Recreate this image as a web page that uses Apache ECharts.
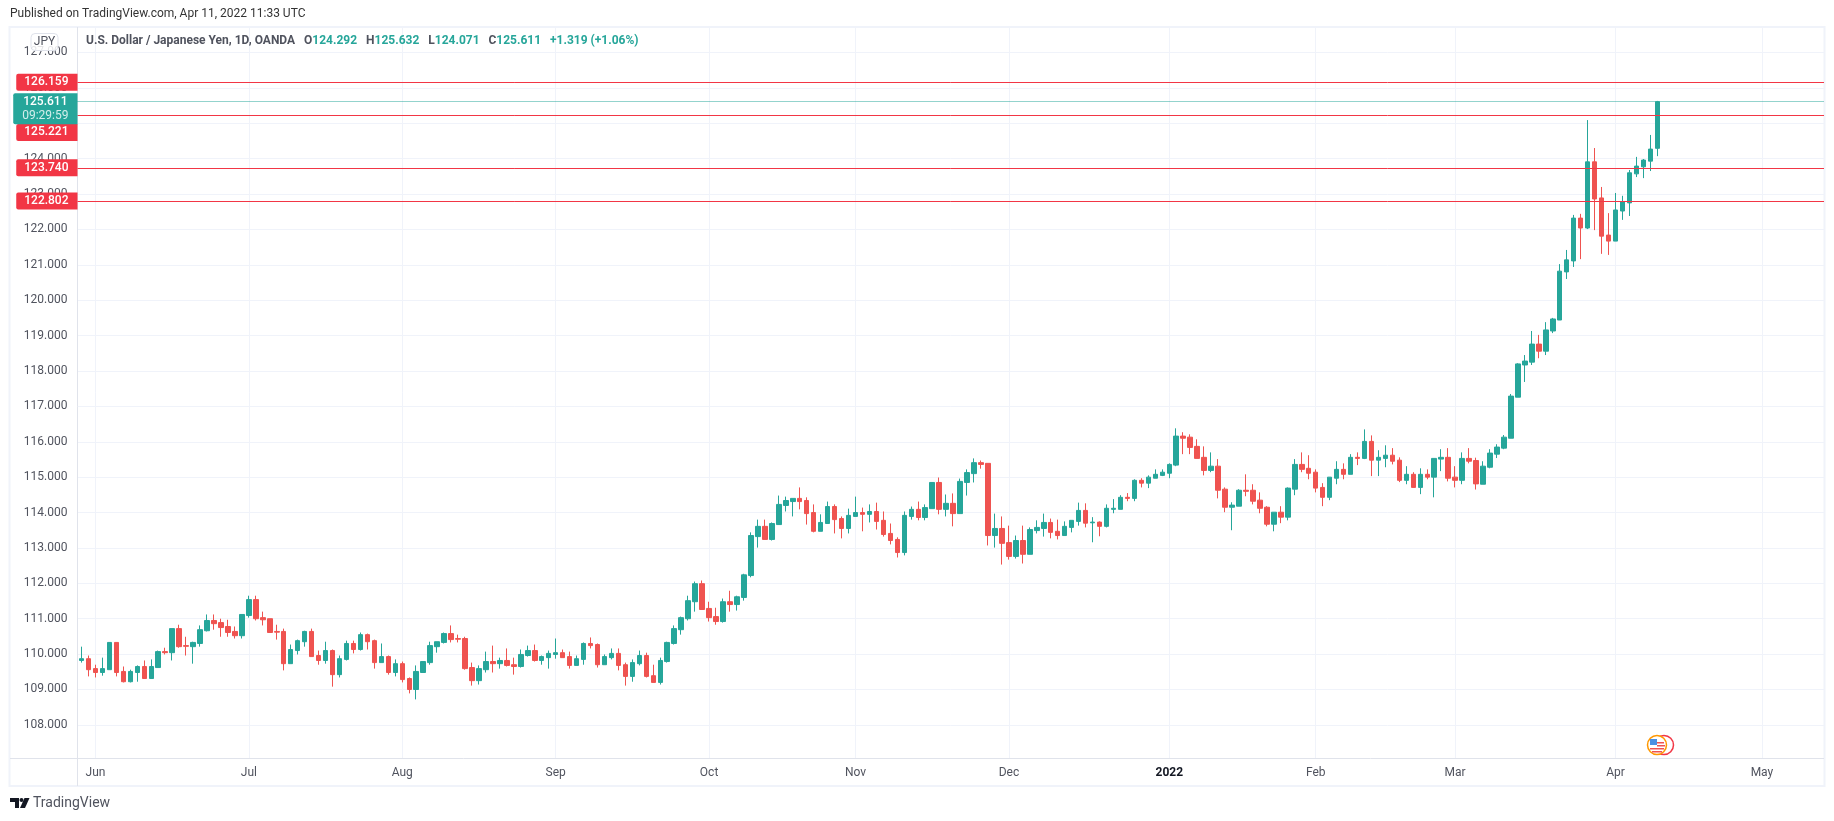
<!DOCTYPE html>
<html>
<head>
<meta charset="utf-8">
<title>USD/JPY 1D</title>
<script src="https://cdn.jsdelivr.net/npm/echarts@6/dist/echarts.min.js"></script>
<style>
  html, body { margin: 0; padding: 0; background: #fff; }
  #chart { width: 1834px; height: 821px; }
</style>
</head>
<body>
<div id="chart"></div>
<script>
// daily candles, one row per trading day
const opens = [
  109.82,109.87,109.59,109.48,109.56,110.33,109.51,109.22,109.48,109.65,109.31,109.62,110.07,110.04,110.72,110.24,110.21,110.30,110.66,110.95,
  110.89,110.78,110.64,110.52,111.09,111.54,111.03,111.00,110.64,110.64,109.73,110.10,110.35,110.64,109.96,109.82,110.10,109.42,109.85,110.30,
  110.13,110.55,110.38,109.76,109.93,109.48,109.73,109.31,109.00,109.48,109.76,110.21,110.33,110.58,110.44,110.44,109.62,109.25,109.56,109.79,
  109.73,109.82,109.70,109.65,109.96,110.10,109.82,109.90,109.99,110.04,109.93,109.68,109.85,110.30,110.27,109.70,109.90,110.02,109.70,109.37,
  109.73,109.96,109.39,109.20,109.79,110.30,110.69,111.00,111.48,111.99,111.29,111.06,110.92,111.48,111.40,111.60,112.22,113.32,113.61,113.24,
  113.66,114.20,114.31,114.40,114.34,114.00,113.47,113.69,114.17,113.83,113.55,113.89,114.00,113.95,114.03,113.78,113.41,113.24,112.87,113.89,
  114.09,113.86,114.11,114.85,114.09,114.26,113.97,114.85,115.10,115.41,115.39,113.35,113.55,113.15,112.76,113.21,112.82,113.49,113.55,113.72,
  113.47,113.35,113.58,113.75,114.06,113.71,113.73,113.61,114.09,114.09,114.43,114.40,114.91,114.83,114.97,115.05,115.11,115.34,116.16,116.13,
  115.87,115.56,115.19,115.31,114.66,114.15,114.18,114.63,114.63,114.35,114.15,113.67,114.01,113.87,114.66,115.36,115.25,115.14,114.71,114.43,
  114.97,115.22,115.08,115.56,115.53,116.01,115.48,115.53,115.62,115.48,114.91,115.08,114.71,115.08,115.00,115.51,115.56,115.00,114.91,115.53,
  115.47,114.80,115.28,115.65,115.82,116.10,117.26,118.17,118.25,118.76,118.56,119.13,119.44,120.80,121.11,122.32,122.04,123.91,122.89,121.84,
  121.67,122.52,122.75,123.57,123.77,123.93,124.292
];
const highs = [
  110.21,109.96,109.70,109.90,110.33,110.33,109.65,109.56,109.68,109.82,109.85,110.10,110.18,110.72,110.83,110.49,110.35,110.81,111.12,111.12,
  111.00,110.97,110.78,111.12,111.65,111.65,111.20,111.00,110.83,110.72,110.27,110.41,110.66,110.72,110.10,110.35,110.13,109.96,110.38,110.38,
  110.61,110.58,110.41,110.30,109.96,109.85,109.79,109.34,109.68,109.79,110.35,110.35,110.61,110.81,110.55,110.49,109.76,109.68,110.07,110.24,
  109.90,110.16,109.90,110.13,110.24,110.27,109.96,110.10,110.44,110.13,110.07,109.96,110.33,110.47,110.30,109.99,110.16,110.16,109.76,109.85,
  110.10,110.04,109.70,109.90,110.35,110.81,111.06,111.65,112.05,112.08,111.48,111.31,111.57,111.79,111.65,112.27,113.44,113.80,113.80,113.72,
  114.48,114.45,114.40,114.71,114.43,114.23,113.95,114.31,114.23,113.89,114.11,114.45,114.14,114.23,114.28,114.03,113.69,113.30,114.03,114.17,
  114.31,114.23,114.85,114.99,114.51,114.54,114.96,115.22,115.53,115.47,115.39,113.97,113.89,113.63,113.35,113.63,113.58,113.78,113.97,113.83,
  113.80,113.75,113.78,114.28,114.26,113.87,113.75,114.23,114.38,114.49,114.55,114.94,114.97,115.05,115.22,115.22,115.39,116.38,116.27,116.21,
  116.07,115.87,115.70,115.51,114.71,114.29,114.66,115.08,114.80,114.57,114.18,114.01,114.18,114.71,115.51,115.70,115.62,115.22,114.83,115.00,
  115.45,115.39,115.65,115.70,116.35,116.18,115.76,115.90,115.82,115.56,115.31,115.14,115.25,115.22,115.53,115.79,115.82,115.31,115.70,115.82,
  115.55,115.45,115.79,115.93,116.19,117.35,118.22,118.45,119.13,119.02,119.38,119.50,121.02,121.42,122.41,122.44,125.09,124.30,123.20,122.46,
  123.03,122.95,123.68,124.05,123.99,124.67,125.632
];
const lows = [
  109.76,109.37,109.34,109.39,109.56,109.37,109.20,109.20,109.22,109.31,109.31,109.62,109.99,109.82,110.18,109.96,109.73,110.21,110.64,110.69,
  110.49,110.49,110.44,110.44,111.03,110.95,110.81,110.61,110.41,109.54,109.73,109.99,110.21,109.93,109.70,109.73,109.08,109.34,109.82,110.02,
  110.10,110.13,109.59,109.76,109.42,109.37,109.20,108.89,108.72,109.48,109.70,110.04,110.30,110.33,110.33,109.56,109.11,109.14,109.48,109.48,
  109.59,109.65,109.42,109.62,109.93,109.79,109.70,109.59,109.87,109.90,109.59,109.68,109.70,110.16,109.62,109.70,109.85,109.54,109.11,109.22,
  109.68,109.34,109.20,109.14,109.76,110.27,110.55,110.95,111.20,111.26,110.92,110.83,110.89,111.20,111.23,111.51,112.17,113.01,113.24,113.21,
  113.66,114.03,113.89,114.09,113.66,113.44,113.47,113.69,113.41,113.27,113.41,113.89,113.47,113.72,113.52,113.32,113.10,112.73,112.79,113.80,
  113.78,113.78,114.11,113.95,113.89,113.61,113.97,114.48,114.85,115.24,113.07,113.01,112.53,112.67,112.70,112.56,112.82,113.41,113.32,113.27,
  113.24,113.35,113.44,113.63,113.58,113.16,113.33,113.58,113.98,114.09,114.32,114.32,114.71,114.69,114.97,115.03,114.97,115.31,115.65,115.65,
  115.53,115.05,115.14,114.40,114.01,113.50,114.18,114.46,114.23,113.98,113.61,113.47,113.70,113.78,114.49,115.14,114.94,114.57,114.18,114.35,
  114.80,114.94,115.08,115.34,115.51,115.03,115.03,115.28,115.36,114.86,114.80,114.71,114.52,114.94,114.43,115.17,114.88,114.71,114.80,115.39,
  114.65,114.80,115.25,115.54,115.79,116.10,117.26,117.69,118.17,118.36,118.45,119.07,119.44,120.60,120.94,121.16,122.01,121.98,121.31,121.28,
  121.67,122.27,122.38,123.48,123.45,123.65,124.071
];
const closes = [
  109.87,109.56,109.48,109.59,110.33,109.48,109.22,109.51,109.65,109.31,109.65,110.07,110.04,110.72,110.21,110.22,110.33,110.69,110.95,110.86,
  110.75,110.61,110.52,111.12,111.54,111.00,110.97,110.61,110.62,109.73,110.13,110.38,110.64,109.93,109.82,110.10,109.42,109.87,110.30,110.13,
  110.55,110.35,109.76,109.93,109.48,109.73,109.28,109.00,109.51,109.79,110.24,110.35,110.58,110.41,110.42,109.59,109.25,109.59,109.79,109.73,
  109.82,109.68,109.65,109.99,110.10,109.82,109.93,110.02,110.04,109.90,109.68,109.87,110.30,110.24,109.70,109.93,110.02,109.68,109.37,109.76,
  109.96,109.37,109.20,109.82,110.33,110.72,111.03,111.51,111.99,111.26,111.03,110.92,111.48,111.40,111.62,112.24,113.35,113.61,113.24,113.69,
  114.23,114.34,114.40,114.31,113.97,113.47,113.72,114.17,113.80,113.55,113.92,114.00,113.95,114.03,113.75,113.38,113.21,112.87,113.92,114.09,
  113.86,114.14,114.85,114.09,114.26,113.97,114.88,115.13,115.41,115.36,113.35,113.55,113.13,112.76,113.21,112.82,113.52,113.58,113.72,113.44,
  113.35,113.61,113.78,114.06,113.70,113.73,113.61,114.12,114.12,114.43,114.40,114.91,114.83,115.00,115.08,115.14,115.36,116.16,116.10,115.84,
  115.53,115.19,115.31,114.63,114.15,114.21,114.63,114.60,114.32,114.12,113.67,114.01,113.87,114.69,115.36,115.22,115.11,114.69,114.43,115.00,
  115.22,115.08,115.56,115.53,116.01,115.48,115.56,115.62,115.45,114.91,115.08,114.71,115.08,115.00,115.53,115.56,114.97,114.91,115.53,115.45,
  114.81,115.31,115.68,115.85,116.13,117.29,118.20,118.28,118.76,118.56,119.16,119.47,120.82,121.14,122.32,122.04,123.91,122.86,121.81,121.67,
  122.55,122.78,123.60,123.79,123.96,124.27,125.611
];

const priceTicks = [108,109,110,111,112,113,114,115,116,117,118,119,120,121,122,123,124,125,126,127];
const monthTicks = [2,24,46,68,90,111,133,156,177,197,220,241];
const monthLabels = ['Jun','Jul','Aug','Sep','Oct','Nov','Dec','2022','Feb','Mar','Apr','May'];
const levels = [126.159, 125.221, 123.740, 122.802];
const lastPrice = 125.611;
const countdown = '09:29:59';

const UP = '#26a69a', DOWN = '#ef5350', TAG = '#f23645';
const GRID = '#f0f3fa', BORDER = '#e0e3eb', FRAME = '#f0f3fa', TEXT = '#50535e';
const FONT = 'Roboto';

const levelLine = (v, offsetY) => ({
  yAxis: v,
  lineStyle: { color: TAG, width: 1, type: 'solid' },
  label: {
    show: true, position: 'start', distance: 0, formatter: v.toFixed(3),
    backgroundColor: TAG, color: '#fff', fontFamily: FONT, fontSize: 12, fontWeight: 500,
    padding: [3, 9, 2, 8], borderRadius: [2, 0, 0, 2], offset: [0, offsetY]
  }
})

const chart = echarts.init(document.getElementById('chart'), null, { renderer: 'canvas' })

chart.setOption({
  animation: false,
  backgroundColor: '#fff',
  title: [
    {
      text: 'Published on TradingView.com, Apr 11, 2022 11:33 UTC',
      left: 10, top: 8, padding: 0,
      textStyle: { fontFamily: FONT, fontSize: 12, fontWeight: 400, color: '#333' }
    },
    {
      text: '{d|U.S. Dollar / Japanese Yen, 1D, OANDA   O}{v|124.292}{d|   H}{v|125.632}{d|   L}{v|124.071}{d|   C}{v|125.611}{v|   +1.319 (+1.06%)}',
      left: 86, top: 35, padding: 0,
      textStyle: {
        rich: {
          d: { fontFamily: FONT, fontSize: 12, color: '#50535e' },
          v: { fontFamily: FONT, fontSize: 12, color: UP }
        }
      }
    }
  ],
  grid: { left: 77.5, right: 10, top: 27, height: 731.5, containLabel: false, show: false },
  xAxis: {
    type: 'value',
    min: -0.58,
    max: 249.9,
    axisLine: { show: false },
    axisTick: { show: false, customValues: monthTicks },
    splitLine: { show: true, lineStyle: { color: GRID, width: 1 } },
    axisLabel: {
      customValues: monthTicks,
      margin: 8,
      fontFamily: FONT, fontSize: 12, color: TEXT,
      formatter: v => {
        const s = monthLabels[monthTicks.indexOf(v)]
        return s === '2022' ? '{y|2022}' : s
      },
      rich: { y: { fontFamily: FONT, fontSize: 12, fontWeight: 700, color: '#131722' } }
    }
  },
  yAxis: {
    type: 'value',
    min: 107.05,
    max: 127.72,
    axisLine: { show: false },
    axisTick: { show: false, customValues: priceTicks },
    splitLine: { show: true, lineStyle: { color: GRID, width: 1 } },
    axisLabel: {
      customValues: priceTicks,
      margin: 10,
      fontFamily: FONT, fontSize: 12, color: TEXT,
      formatter: v => v.toFixed(3)
    }
  },
  series: [{
    type: 'candlestick',
    barWidth: 5,
    data: opens.map((o, i) => [i, o, closes[i], lows[i], highs[i]]),
    itemStyle: { color: UP, color0: DOWN, borderColor: UP, borderColor0: DOWN, borderWidth: 1 },
    markLine: {
      silent: true,
      symbol: 'none',
      animation: false,
      data: [
        levelLine(levels[0], 0),
        levelLine(levels[1], 17),
        levelLine(levels[2], 0),
        levelLine(levels[3], 0),
        {
          yAxis: lastPrice,
          lineStyle: { color: UP, width: 1, type: 'dotted' },
          label: {
            show: true, position: 'start', distance: 0,
            formatter: '{a|' + lastPrice.toFixed(3) + '}\n{b|' + countdown + '}',
            backgroundColor: UP, padding: [2, 9, 1, 9], borderRadius: [2, 0, 0, 2],
            offset: [0, 7],
            rich: {
              a: { color: '#fff', fontFamily: FONT, fontSize: 12, fontWeight: 500, lineHeight: 14, align: 'center' },
              b: { color: '#d4eeeb', fontFamily: FONT, fontSize: 12, lineHeight: 14, align: 'center' }
            }
          }
        }
      ]
    }
  }],
  graphic: [
    // frame and scale borders
    { type: 'rect', silent: true, z: 0, shape: { x: 9.5, y: 27, width: 1815, height: 759 }, style: { fill: 'none', stroke: FRAME, lineWidth: 2 } },
    { type: 'line', silent: true, z: 1, shape: { x1: 77.5, y1: 27, x2: 77.5, y2: 786 }, style: { stroke: BORDER, lineWidth: 1 } },
    { type: 'line', silent: true, z: 1, shape: { x1: 10, y1: 758.5, x2: 1824, y2: 758.5 }, style: { stroke: BORDER, lineWidth: 1 } },
    // currency button
    { type: 'rect', silent: true, z: 20, shape: { x: 31, y: 33.5, width: 27, height: 17, r: 4 }, style: { fill: 'rgba(255,255,255,0.85)', stroke: '#e0e3eb', lineWidth: 1 } },
    { type: 'text', silent: true, z: 21, x: 44.5, y: 42, style: { text: 'JPY', fill: '#50535e', font: '12px ' + FONT, align: 'center', verticalAlign: 'middle' } },
    // event icon
    { type: 'circle', silent: true, z: 20, shape: { cx: 1664, cy: 745, r: 9.5 }, style: { fill: '#fff', stroke: '#f23645', lineWidth: 1.5 } },
    { type: 'circle', silent: true, z: 21, shape: { cx: 1657, cy: 745, r: 9.5 }, style: { fill: '#fff', stroke: '#ff9800', lineWidth: 1.5 } },
    { type: 'rect', silent: true, z: 22, shape: { x: 1650, y: 739, width: 7, height: 6 }, style: { fill: '#4a90e2' } },
    { type: 'rect', silent: true, z: 22, shape: { x: 1657, y: 742, width: 7, height: 1.5 }, style: { fill: '#ef5350' } },
    { type: 'rect', silent: true, z: 22, shape: { x: 1657, y: 745, width: 8, height: 1.5 }, style: { fill: '#ef5350' } },
    { type: 'rect', silent: true, z: 22, shape: { x: 1650, y: 748, width: 14, height: 1.5 }, style: { fill: '#ef5350' } },
    { type: 'rect', silent: true, z: 22, shape: { x: 1652, y: 751, width: 10, height: 1.5 }, style: { fill: '#ef5350' } },
    // TradingView logo and name
    { type: 'polygon', silent: true, shape: { points: [[10, 798], [19, 798], [19, 808], [15, 808], [15, 802], [10, 802]] }, style: { fill: '#131722' } },
    { type: 'circle', silent: true, shape: { cx: 21.5, cy: 800, r: 2 }, style: { fill: '#131722' } },
    { type: 'polygon', silent: true, shape: { points: [[24.5, 798], [29.5, 798], [25, 808], [20, 808]] }, style: { fill: '#131722' } },
    { type: 'text', silent: true, x: 33, y: 803, style: { text: 'TradingView', fill: '#50535e', font: '14px ' + FONT, verticalAlign: 'middle' } }
  ]
})
</script>
</body>
</html>
